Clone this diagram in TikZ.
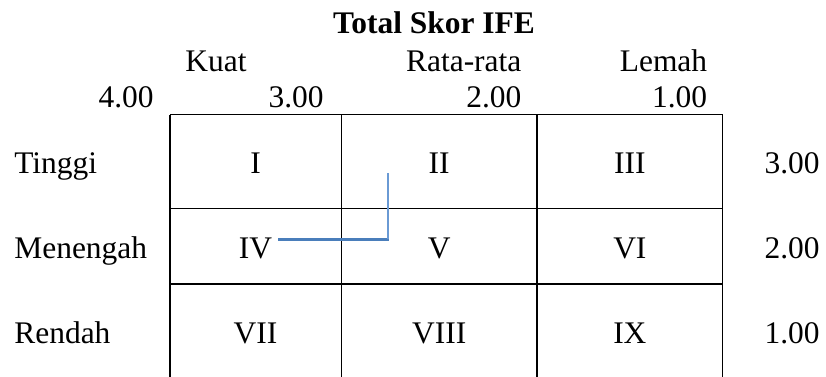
\documentclass[tikz,border=0pt]{standalone}
\usepackage{fontspec}
\setmainfont{Liberation Serif}
\definecolor{linkblue}{HTML}{4A7EBB}
\definecolor{linkblue2}{HTML}{6A9AD4}
\begin{document}
\begin{tikzpicture}[every node/.style={font=\fontsize{17.9}{21}\selectfont},
  lbl/.style={inner sep=0pt},
  cell/.style={anchor=base}]
\useasboundingbox (0,0) rectangle (16.52,7.52);

\draw[line width=0.6pt] (3.40,5.226) -- (14.454,5.226);
\draw[line width=0.6pt] (3.40,3.354) -- (14.454,3.354);
\draw[line width=0.6pt] (3.40,1.84) -- (14.454,1.84);
\draw[line width=0.6pt] (3.40,5.226) -- (3.40,-0.2);
\draw[line width=0.6pt] (6.826,5.226) -- (6.826,-0.2);
\draw[line width=0.6pt] (10.74,5.226) -- (10.74,-0.2);
\draw[line width=0.6pt] (14.454,5.226) -- (14.454,-0.2);

\node[lbl,anchor=base] (title) at (8.68,6.86) {\textbf{Total Skor IFE}};
\node[lbl,anchor=base east] (kuat) at (4.938,6.10) {Kuat};
\node[lbl,anchor=base east] (rata) at (10.434,6.10) {Rata-rata};
\node[lbl,anchor=base east] (lemah) at (14.15,6.10) {Lemah};

\node[lbl,anchor=base east] (x4) at (3.08,5.38) {4.00};
\node[lbl,anchor=base east] (x3) at (6.48,5.38) {3.00};
\node[lbl,anchor=base east] (x2) at (10.434,5.38) {2.00};
\node[lbl,anchor=base east] (x1) at (14.15,5.38) {1.00};

\node[lbl,anchor=base west] (tinggi) at (0.28,4.053) {Tinggi};
\node[lbl,anchor=base west] (menengah) at (0.28,2.353) {Menengah};
\node[lbl,anchor=base west] (rendah) at (0.28,0.653) {Rendah};

\node[lbl,anchor=base east] (y3) at (16.40,4.053) {3.00};
\node[lbl,anchor=base east] (y2) at (16.40,2.353) {2.00};
\node[lbl,anchor=base east] (y1) at (16.40,0.653) {1.00};

\node[cell] (i) at (5.11,4.053) {I};
\node[cell] (ii) at (8.784,4.053) {II};
\node[cell] (iii) at (12.597,4.053) {III};

\node[cell] (iv) at (5.11,2.353) {IV};
\node[cell] (v) at (8.784,2.353) {V};
\node[cell] (vi) at (12.597,2.353) {VI};

\node[cell] (vii) at (5.11,0.653) {VII};
\node[cell] (viii) at (8.784,0.653) {VIII};
\node[cell] (ix) at (12.597,0.653) {IX};

\coordinate (pos) at (7.766,2.734);
\coordinate (top) at (7.766,4.06);
\draw[linkblue, line width=1.5pt] (pos -| iv.east) -- ([xshift=0.5pt]pos);
\draw[linkblue2, line width=1.1pt] (pos) -- (top);
\end{tikzpicture}
\end{document}
